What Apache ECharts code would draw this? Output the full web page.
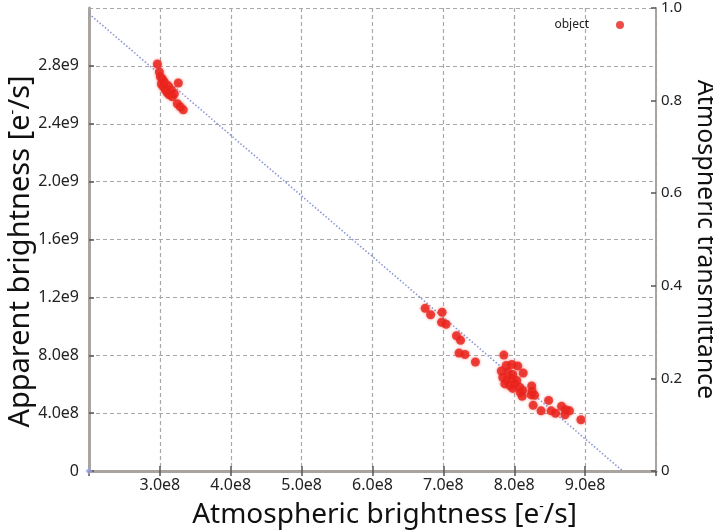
<!DOCTYPE html>
<html>
<head>
<meta charset="utf-8">
<script src="https://cdn.jsdelivr.net/npm/echarts@6/dist/echarts.min.js"></script>
<style>
  html, body { margin: 0; padding: 0; background: #ffffff; }
  #chart { width: 713px; height: 531px; }
</style>
</head>
<body>
<div id="chart"></div>
<script>
// Atmospheric brightness [e-/s] of each object measurement
const atmBrightness = [
  2.965e8, 2.993e8, 3.007e8, 3.035e8, 3.021e8, 3.063e8, 3.049e8, 3.077e8, 3.105e8,
  3.133e8, 3.176e8, 3.204e8, 3.162e8, 3.119e8, 3.260e8, 3.246e8, 3.288e8, 3.330e8,
  6.743e8, 6.820e8, 6.982e8, 6.975e8, 7.038e8, 7.185e8, 7.242e8, 7.221e8, 7.305e8,
  7.452e8, 7.853e8, 7.888e8, 7.965e8, 8.049e8, 7.817e8, 7.909e8, 7.979e8, 8.126e8,
  7.838e8, 7.895e8, 7.965e8, 8.035e8, 7.867e8, 7.937e8, 8.007e8, 8.077e8, 7.979e8,
  8.119e8, 8.084e8, 8.112e8, 8.246e8, 8.253e8, 8.239e8, 8.485e8, 8.267e8, 8.379e8,
  8.520e8, 8.583e8, 8.667e8, 8.723e8, 8.779e8, 8.716e8, 8.941e8, 8.288e8
];
// Apparent brightness [e-/s] of the same measurements
const apparentBrightness = [
  2.813e9, 2.758e9, 2.724e9, 2.710e9, 2.675e9, 2.689e9, 2.655e9, 2.634e9, 2.613e9,
  2.600e9, 2.586e9, 2.607e9, 2.634e9, 2.662e9, 2.682e9, 2.538e9, 2.517e9, 2.496e9,
  1.124e9, 1.080e9, 1.097e9, 1.028e9, 1.014e9, 0.935e9, 0.904e9, 0.815e9, 0.805e9,
  0.753e9, 0.801e9, 0.729e9, 0.736e9, 0.726e9, 0.691e9, 0.684e9, 0.667e9, 0.677e9,
  0.646e9, 0.626e9, 0.640e9, 0.626e9, 0.602e9, 0.591e9, 0.602e9, 0.578e9, 0.571e9,
  0.557e9, 0.543e9, 0.516e9, 0.588e9, 0.550e9, 0.526e9, 0.488e9, 0.454e9, 0.416e9,
  0.416e9, 0.399e9, 0.447e9, 0.423e9, 0.416e9, 0.389e9, 0.354e9, 0.523e9
];
// Transmittance reference line (end points)
const lineX = [2.0e8, 9.53e8];
const lineY = [3.16e9, 0];
// Origin marker of the reference line
const originX = [2.0e8];
const originY = [0];

const xTickLabels = ['3.0e8', '4.0e8', '5.0e8', '6.0e8', '7.0e8', '8.0e8', '9.0e8'];
const yTickLabels = ['0', '4.0e8', '8.0e8', '1.2e9', '1.6e9', '2.0e9', '2.4e9', '2.8e9'];
const rightTickLabels = ['0', '0.2', '0.4', '0.6', '0.8', '1.0'];

const FONT = '"Noto Sans", "Open Sans", sans-serif';
const AXIS_GRAY = '#a9a4a0';
const TICK_DARK = '#555555';

function nameRich(size) {
  return {
    a: { fontSize: size, fontFamily: FONT, color: '#111', lineHeight: size * 1.1 },
    s: { fontSize: Math.round(size * 0.5), fontFamily: FONT, color: '#111', verticalAlign: 'top', padding: [0, 0, Math.round(size * 0.45), 0] }
  };
}

const chart = echarts.init(document.getElementById('chart'), null, { renderer: 'canvas' });

const option = {
  backgroundColor: '#ffffff',
  animation: false,
  grid: { left: 89, right: 57, top: 8, bottom: 60, containLabel: false, outerBoundsMode: 'none' },
  legend: {
    data: [{ name: 'object', icon: 'circle' }],
    right: 84,
    top: 14,
    align: 'right',
    itemWidth: 8,
    itemHeight: 8,
    itemGap: 4,
    textStyle: { fontSize: 12, fontFamily: FONT, color: '#222', padding: [0, 22, 0, 0] }
  },
  xAxis: [
    {
      type: 'value',
      min: 2.0e8,
      max: 1.0e9,
      interval: 1.0e8,
      position: 'bottom',
      name: '{a|Atmospheric brightness [e}{s|-}{a|/s]}',
      nameLocation: 'middle',
      nameGap: 29,
      nameTextStyle: { rich: nameRich(28), padding: [0, 0, 0, 24] },
      axisLine: { show: true, onZero: false, lineStyle: { color: AXIS_GRAY, width: 3 } },
      axisTick: { show: true, inside: true, length: 5, lineStyle: { color: TICK_DARK, width: 1.5 } },
      axisLabel: {
        showMinLabel: false,
        showMaxLabel: false,
        fontSize: 16,
        fontFamily: FONT,
        color: '#222',
        margin: 6,
        formatter: function (v) {
          const i = Math.round(v / 1e8) - 3;
          return xTickLabels[i] !== undefined ? xTickLabels[i] : '';
        }
      },
      splitLine: { show: true, lineStyle: { color: '#a8a8a8', type: [4, 3], width: 1.2 } }
    },
    {
      type: 'value',
      min: 2.0e8,
      max: 1.0e9,
      interval: 1.0e8,
      position: 'top',
      axisLine: { show: true, lineStyle: { color: AXIS_GRAY, width: 2 } },
      axisTick: { show: true, inside: true, length: 5, lineStyle: { color: TICK_DARK, width: 1.5 } },
      axisLabel: { show: false },
      splitLine: { show: false }
    }
  ],
  yAxis: [
    {
      type: 'value',
      min: 0,
      max: 3.2e9,
      interval: 0.4e9,
      position: 'left',
      name: '{a|Apparent brightness [e}{s|-}{a|/s]}',
      nameLocation: 'middle',
      nameRotate: 90,
      nameGap: 52,
      nameMoveOverlap: false,
      nameTextStyle: { rich: nameRich(29), padding: [0, 24, 0, 0] },
      axisLine: { show: true, onZero: false, lineStyle: { color: AXIS_GRAY, width: 3 } },
      axisTick: { show: true, inside: true, length: 5, lineStyle: { color: TICK_DARK, width: 1.5 } },
      axisLabel: {
        showMaxLabel: false,
        fontSize: 16,
        fontFamily: FONT,
        color: '#222',
        margin: 10,
        formatter: function (v) {
          const i = Math.round(v / 0.4e9);
          return yTickLabels[i] !== undefined ? yTickLabels[i] : '';
        }
      },
      splitLine: { show: true, lineStyle: { color: '#a8a8a8', type: [4, 3], width: 1.2 } }
    },
    {
      type: 'value',
      min: 0,
      max: 1,
      interval: 0.2,
      position: 'right',
      name: 'Atmospheric transmittance',
      nameLocation: 'middle',
      nameRotate: -90,
      nameGap: 24,
      nameTextStyle: { fontSize: 25, fontFamily: FONT, color: '#111' },
      axisLine: { show: true, lineStyle: { color: AXIS_GRAY, width: 2 } },
      axisTick: { show: true, inside: true, length: 5, lineStyle: { color: TICK_DARK, width: 1.5 } },
      axisLabel: {
        fontSize: 15,
        fontFamily: FONT,
        color: '#222',
        margin: 5,
        formatter: function (v) {
          const i = Math.round(v / 0.2);
          return rightTickLabels[i] !== undefined ? rightTickLabels[i] : '';
        }
      },
      splitLine: { show: false }
    }
  ],
  series: [
    {
      name: 'line',
      type: 'line',
      xAxisIndex: 0,
      yAxisIndex: 0,
      data: lineX.map((x, i) => [x, lineY[i]]),
      showSymbol: false,
      symbol: 'none',
      lineStyle: { color: '#8a96d8', width: 1.6, type: [1.5, 2] },
      silent: true,
      z: 3
    },
    {
      name: 'origin',
      type: 'scatter',
      xAxisIndex: 0,
      yAxisIndex: 0,
      data: originX.map((x, i) => [x, originY[i]]),
      symbol: 'diamond',
      symbolSize: 7,
      itemStyle: { color: '#9aa3e0', opacity: 0.8 },
      z: 4
    },
    {
      name: 'object',
      type: 'scatter',
      xAxisIndex: 0,
      yAxisIndex: 0,
      data: atmBrightness.map((x, i) => [x, apparentBrightness[i]]),
      symbol: 'circle',
      symbolSize: 9,
      itemStyle: { color: '#e8201a', shadowColor: 'rgba(240,60,50,0.7)', shadowBlur: 3 },
      z: 5
    }
  ]
};

chart.setOption(option);
</script>
</body>
</html>
